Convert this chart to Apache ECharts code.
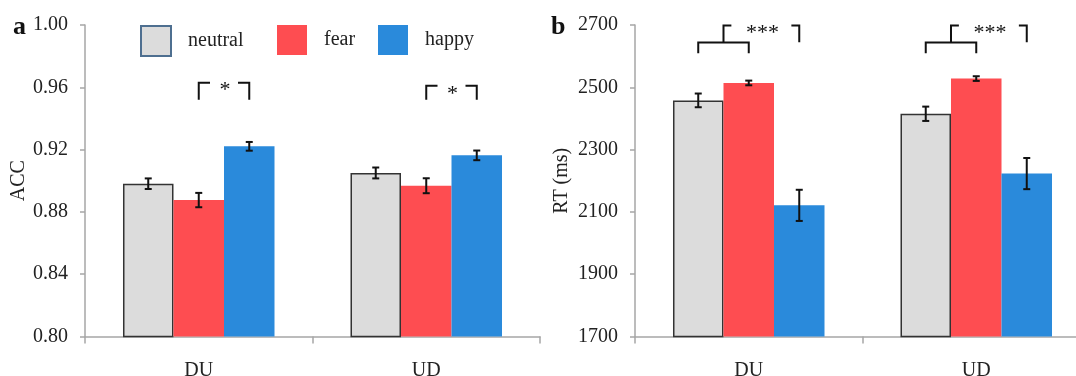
<!DOCTYPE html>
<html>
<head>
<meta charset="utf-8">
<script src="https://cdn.jsdelivr.net/npm/echarts@6/dist/echarts.min.js"></script>
<style>
  html, body { margin: 0; padding: 0; background: #fff; }
  #chart { width: 1076px; height: 376px; }
</style>
</head>
<body>
<div id="chart"></div>
<script>
// categories and series names
const categories = ["DU", "UD"];
const seriesNames = ["neutral", "fear", "happy"];

// panel a: accuracy (means and SE)
const accNeutral = [0.8981, 0.905];
const accFear = [0.8876, 0.8968];
const accHappy = [0.9221, 0.9163];
const accNeutralErr = [0.0034, 0.0035];
const accFearErr = [0.0046, 0.0048];
const accHappyErr = [0.0028, 0.0031];

// panel b: reaction time in ms (means and SE)
const rtNeutral = [2458, 2415];
const rtFear = [2514, 2528];
const rtHappy = [2121, 2223];
const rtNeutralErr = [22, 23];
const rtFearErr = [7.5, 7.5];
const rtHappyErr = [50, 50];

// axis ticks
const accTicks = [0.8, 0.84, 0.88, 0.92, 0.96, 1.0];
const rtTicks = [1700, 1900, 2100, 2300, 2500, 2700];

// significance brackets: slot 0/1/2 = neutral/fear/happy inside a category
const accBrackets = [
  { cat: 0, from: 1, to: 2, top: 0.963, tipL: 0.952, tipR: 0.952, label: "*", gap: 14 },
  { cat: 1, from: 1, to: 2, top: 0.961, tipL: 0.952, tipR: 0.952, label: "*", gap: 14 }
];
const rtBrackets = [
  { cat: 0, from: 0, to: 1, top: 2644, tipL: 2609, tipR: 2609, label: "", gap: 0 },
  { cat: 0, from: 0.5, to: 2, top: 2698, tipL: 2644, tipR: 2645, label: "***", gap: 30 },
  { cat: 1, from: 0, to: 1, top: 2644, tipL: 2609, tipR: 2609, label: "", gap: 0 },
  { cat: 1, from: 0.5, to: 2, top: 2698, tipL: 2644, tipR: 2645, label: "***", gap: 30 }
];

const colors = ["#dcdcdc", "#fe4d51", "#2a8adb"];
const FONT = "'Liberation Serif', 'Times New Roman', serif";
const CAT_GAP = 0.334;
const AXIS_COLOR = "#a6a6a6";

function slotX(api, cat, slot) {
  const band = api.size([1, 0])[0];
  const barW = band * (1 - CAT_GAP) / 3;
  return api.coord([cat, 0])[0] + (slot - 1) * barW;
}

function errorBarItem(params, api) {
  const cat = api.value(0);
  const slot = api.value(1);
  const v = api.value(2);
  const e = api.value(3);
  const x = slotX(api, cat, slot);
  const yHi = api.coord([cat, v + e])[1];
  const yLo = api.coord([cat, v - e])[1];
  const cap = 3.5;
  const style = { stroke: "#111", lineWidth: 2 };
  return {
    type: "group",
    children: [
      { type: "line", shape: { x1: x, y1: yHi, x2: x, y2: yLo }, style: style },
      { type: "line", shape: { x1: x - cap, y1: yHi, x2: x + cap, y2: yHi }, style: style },
      { type: "line", shape: { x1: x - cap, y1: yLo, x2: x + cap, y2: yLo }, style: style }
    ]
  };
}

function bracketRenderer(list) {
  return function (params, api) {
    const b = list[params.dataIndex];
    const x1 = slotX(api, b.cat, b.from);
    const x2 = slotX(api, b.cat, b.to);
    const yTop = api.coord([b.cat, b.top])[1];
    const yL = api.coord([b.cat, b.tipL])[1];
    const yR = api.coord([b.cat, b.tipR])[1];
    const mid = (x1 + x2) / 2;
    const style = { stroke: "#111", lineWidth: 2, fill: null };
    const children = [];
    if (b.label) {
      children.push({ type: "polyline", shape: { points: [[x1, yL], [x1, yTop], [mid - b.gap, yTop]] }, style: style });
      children.push({ type: "polyline", shape: { points: [[mid + b.gap, yTop], [x2, yTop], [x2, yR]] }, style: style });
      children.push({
        type: "text",
        style: { text: b.label, x: mid + 1, y: yTop + 8, align: "center", verticalAlign: "middle", font: "22px " + FONT, fill: "#111" }
      });
    } else {
      children.push({ type: "polyline", shape: { points: [[x1, yL], [x1, yTop], [x2, yTop], [x2, yR]] }, style: style });
    }
    return { type: "group", children: children };
  };
}

function errorData(vals, errs) {
  const out = [];
  for (let i = 0; i < categories.length; i++) {
    for (let k = 0; k < vals.length; k++) {
      out.push([i, k, vals[k][i], errs[k][i]]);
    }
  }
  return out;
}

function barSeries(name, idx, data, axis) {
  return {
    name: name,
    type: "bar",
    xAxisIndex: axis,
    yAxisIndex: axis,
    data: data,
    barGap: "0%",
    barCategoryGap: (CAT_GAP * 100) + "%",
    itemStyle: idx === 0
      ? { color: colors[0], borderColor: "#333", borderWidth: 1.5 }
      : { color: colors[idx] }
  };
}

function xAxisDef(grid) {
  return {
    type: "category",
    gridIndex: grid,
    data: categories,
    axisLine: { lineStyle: { color: AXIS_COLOR, width: 1.5 } },
    axisTick: { show: true, length: 7, lineStyle: { color: AXIS_COLOR, width: 1.5 } },
    axisLabel: { margin: 24, fontSize: 20, fontFamily: FONT, color: "#222" },
    splitLine: { show: false }
  };
}

function yAxisDef(grid, ticks, name, gap, fmt) {
  return {
    type: "value",
    gridIndex: grid,
    min: ticks[0],
    max: ticks[ticks.length - 1],
    interval: ticks[1] - ticks[0],
    name: name,
    nameLocation: "middle",
    nameGap: gap,
    nameTextStyle: { fontSize: 20, fontFamily: FONT, color: "#222" },
    axisLine: { show: true, lineStyle: { color: AXIS_COLOR, width: 1.5 } },
    axisTick: { show: true, length: 5, lineStyle: { color: AXIS_COLOR, width: 1.5 } },
    axisLabel: { margin: 17, fontSize: 20, fontFamily: FONT, color: "#222", formatter: fmt },
    splitLine: { show: false }
  };
}

const legendBase = {
  icon: "rect",
  itemWidth: 30,
  itemHeight: 30,
  top: 20,
  selectedMode: false,
  textStyle: { fontSize: 20, fontFamily: FONT, color: "#222", padding: [0, 0, 0, 12] }
};

const option = {
  animation: false,
  backgroundColor: "#fff",
  grid: [
    { left: 85, width: 455, top: 25, bottom: 39.5, outerBoundsMode: "none" },
    { left: 635, width: 455, top: 25, bottom: 39.5, outerBoundsMode: "none" }
  ],
  legend: [
    Object.assign({}, legendBase, { left: 135, data: ["neutral"], itemStyle: { borderColor: "#4e6f90", borderWidth: 2 } }),
    Object.assign({}, legendBase, { left: 272, data: ["fear"], itemStyle: { borderWidth: 0 } }),
    Object.assign({}, legendBase, { left: 373, data: ["happy"], itemStyle: { borderWidth: 0 } })
  ],
  xAxis: [xAxisDef(0), xAxisDef(1)],
  yAxis: [
    yAxisDef(0, accTicks, "ACC", 53, function (v) { return v.toFixed(2); }),
    yAxisDef(1, rtTicks, "RT (ms)", 63, function (v) { return String(v); })
  ],
  graphic: [
    { type: "text", left: 13, top: 14, style: { text: "a", font: "bold 26px " + FONT, fill: "#111" } },
    { type: "text", left: 551, top: 14, style: { text: "b", font: "bold 26px " + FONT, fill: "#111" } }
  ],
  series: [
    barSeries("neutral", 0, accNeutral, 0),
    barSeries("fear", 1, accFear, 0),
    barSeries("happy", 2, accHappy, 0),
    barSeries("neutral", 0, rtNeutral, 1),
    barSeries("fear", 1, rtFear, 1),
    barSeries("happy", 2, rtHappy, 1),
    {
      type: "custom",
      xAxisIndex: 0,
      yAxisIndex: 0,
      z: 5,
      renderItem: errorBarItem,
      encode: { x: 0, y: 2 },
      data: errorData([accNeutral, accFear, accHappy], [accNeutralErr, accFearErr, accHappyErr])
    },
    {
      type: "custom",
      xAxisIndex: 1,
      yAxisIndex: 1,
      z: 5,
      renderItem: errorBarItem,
      encode: { x: 0, y: 2 },
      data: errorData([rtNeutral, rtFear, rtHappy], [rtNeutralErr, rtFearErr, rtHappyErr])
    },
    {
      type: "custom",
      xAxisIndex: 0,
      yAxisIndex: 0,
      z: 5,
      renderItem: bracketRenderer(accBrackets),
      encode: { x: 0, y: 1 },
      data: accBrackets.map(function (b) { return [b.cat, b.top]; })
    },
    {
      type: "custom",
      xAxisIndex: 1,
      yAxisIndex: 1,
      z: 5,
      renderItem: bracketRenderer(rtBrackets),
      encode: { x: 0, y: 1 },
      data: rtBrackets.map(function (b) { return [b.cat, b.top]; })
    }
  ]
};

const chart = echarts.init(document.getElementById("chart"));
chart.setOption(option);
</script>
</body>
</html>
